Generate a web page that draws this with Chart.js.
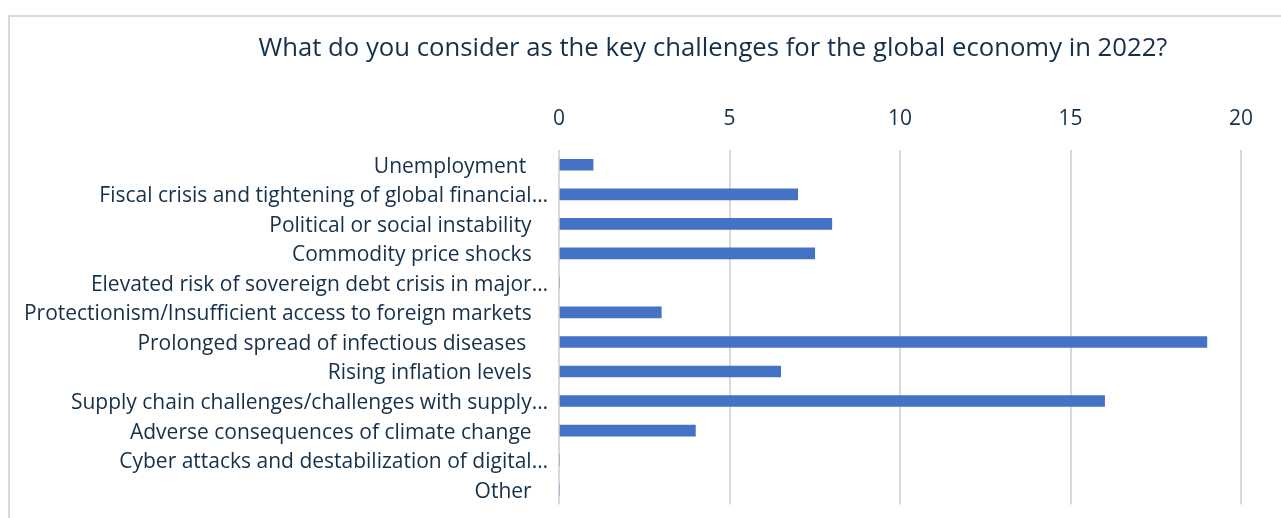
<!DOCTYPE html>
<html>
<head>
<meta charset="utf-8">
<script src="https://cdn.jsdelivr.net/npm/chart.js@4"></script>
<style>
  html, body { margin: 0; padding: 0; background: #fff; overflow: hidden; }
  #box {
    position: absolute; left: 8px; top: 15px; width: 1271px; height: 503px;
    border-left: 2px solid #d9d9d9; border-top: 2px solid #d9d9d9;
  }
  #title {
    position: absolute; left: 0; top: 29px; width: 1426px; text-align: center;
    font-family: "Open Sans", sans-serif; font-size: 25.7px; color: #15304a;
  }
</style>
</head>
<body>
<div id="box">
  <canvas id="grafico" width="1271" height="503"></canvas>
</div>
<div id="title">What do you consider as the key challenges for the global economy in 2022?</div>
<script>
const ctx = document.getElementById('grafico');

const labels = [
  'Unemployment ',
  'Fiscal crisis and tightening of global financial…',
  'Political or social instability',
  'Commodity price shocks',
  'Elevated risk of sovereign debt crisis in major…',
  'Protectionism/Insufficient access to foreign markets',
  'Prolonged spread of infectious diseases ',
  'Rising inflation levels',
  'Supply chain challenges/challenges with supply…',
  'Adverse consequences of climate change',
  'Cyber attacks and destabilization of digital…',
  'Other'
];
const responses = [1, 7, 8, 7.5, 0, 3, 19, 6.5, 16, 4, 0, 0];
const xTicks = [0, 5, 10, 15, 20];

const textColor = '#15304a';

new Chart(ctx, {
  type: 'bar',
  data: {
    labels,
    datasets: [{
      data: responses,
      backgroundColor: '#4472c4',
      barThickness: 11
    }]
  },
  options: {
    indexAxis: 'y',
    responsive: false,
    animation: false,
    layout: { padding: { top: 73, right: 40, bottom: 10, left: 0 } },
    plugins: {
      legend: { display: false },
      tooltip: { enabled: false }
    },
    scales: {
      x: {
        position: 'top',
        min: 0,
        max: 20,
        afterBuildTicks: axis => { axis.ticks = xTicks.map(v => ({ value: v })); },
        afterFit: axis => { axis.height = 60; },
        grid: { color: '#d9d9d9', lineWidth: 2, drawTicks: false },
        border: { display: false },
        ticks: {
          padding: 18,
          color: textColor,
          font: { family: 'Open Sans', size: 21 }
        }
      },
      y: {
        afterFit: axis => { axis.width = 549; },
        grid: { display: false },
        border: { display: false },
        ticks: {
          padding: 3,
          labelOffset: 2,
          color: textColor,
          font: { family: 'Open Sans', size: 21 },
          callback: function (v) {
            const s = this.getLabelForValue(v);
            return s.endsWith('…') ? s : s + '   ';
          }
        }
      }
    }
  }
});
</script>
</body>
</html>
